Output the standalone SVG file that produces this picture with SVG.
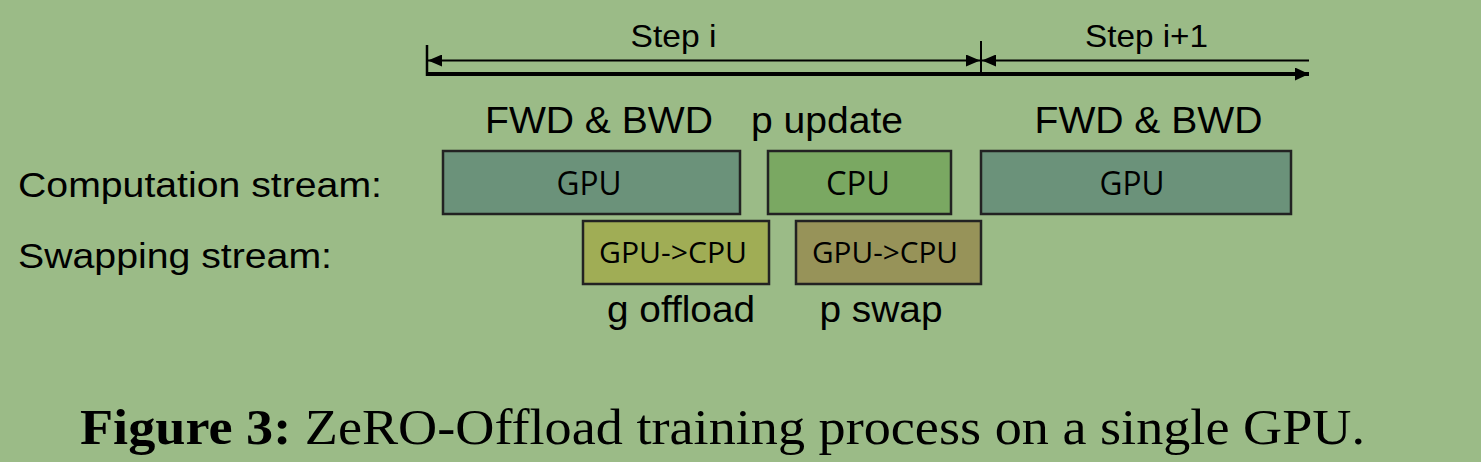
<svg xmlns="http://www.w3.org/2000/svg" width="1481" height="462" viewBox="0 0 1481 462">
<style>
.lbl{font-family:"Liberation Sans",Arial,sans-serif;fill:#000}
.box{stroke:#222;stroke-width:2.5}
.bt{font-family:"Open Sans","DejaVu Sans",sans-serif;fill:#000;text-anchor:middle}
.cap{font-family:"Liberation Serif","Times New Roman",serif;fill:#000}
</style>
<defs>
<marker id="ah" viewBox="0 0 14 12" refX="14" refY="6" markerWidth="14" markerHeight="12" markerUnits="userSpaceOnUse" orient="auto-start-reverse">
<path d="M0,0 L14,6 L0,12 Z" fill="#000"/>
</marker>
<marker id="ahb" viewBox="0 0 14 13" refX="14" refY="6.5" markerWidth="14" markerHeight="13" markerUnits="userSpaceOnUse" orient="auto">
<path d="M0,0 L14,6.5 L0,13 Z" fill="#000"/>
</marker>
</defs>
<rect width="1481" height="462" fill="#9bbb87"/>
<g id="connectors" stroke="#000" fill="none">
<line x1="427" y1="45" x2="427" y2="76" stroke-width="2.5"/>
<line x1="981" y1="41" x2="981" y2="72" stroke-width="2"/>
<line x1="428" y1="60.5" x2="980" y2="60.5" stroke-width="2" marker-start="url(#ah)" marker-end="url(#ah)"/>
<line x1="1309" y1="60.5" x2="982" y2="60.5" stroke-width="2" marker-end="url(#ah)"/>
<line x1="426" y1="74" x2="1309" y2="74" stroke-width="4" marker-end="url(#ahb)"/>
</g>
<g id="step-labels">
<text class="lbl" x="673.5" y="47" font-size="32" text-anchor="middle" textLength="86" lengthAdjust="spacingAndGlyphs">Step i</text>
<text class="lbl" x="1146.5" y="47" font-size="32" text-anchor="middle" textLength="123" lengthAdjust="spacingAndGlyphs">Step i+1</text>
</g>
<g id="phase-labels">
<text class="lbl" x="599" y="133" font-size="36" text-anchor="middle" textLength="228" lengthAdjust="spacingAndGlyphs">FWD &amp; BWD</text>
<text class="lbl" x="827" y="133" font-size="36" text-anchor="middle" textLength="152" lengthAdjust="spacingAndGlyphs">p update</text>
<text class="lbl" x="1148.5" y="133" font-size="36" text-anchor="middle" textLength="228" lengthAdjust="spacingAndGlyphs">FWD &amp; BWD</text>
</g>
<g id="stream-labels">
<text class="lbl" x="18" y="197" font-size="35" textLength="364" lengthAdjust="spacingAndGlyphs">Computation stream:</text>
<text class="lbl" x="18" y="268" font-size="35" textLength="314" lengthAdjust="spacingAndGlyphs">Swapping stream:</text>
</g>
<g id="gpu1">
<rect class="box" x="443" y="151" width="297" height="63" fill="#6b927a"/>
<text class="bt" x="589" y="195" font-size="32" textLength="65" lengthAdjust="spacingAndGlyphs">GPU</text>
</g>
<g id="cpu">
<rect class="box" x="768" y="151" width="183" height="63" fill="#7aa862"/>
<text class="bt" x="858" y="195" font-size="32" textLength="64" lengthAdjust="spacingAndGlyphs">CPU</text>
</g>
<g id="gpu2">
<rect class="box" x="981" y="151" width="310" height="63" fill="#6b927a"/>
<text class="bt" x="1132" y="195" font-size="32" textLength="65" lengthAdjust="spacingAndGlyphs">GPU</text>
</g>
<g id="g-offload">
<rect class="box" x="583" y="221" width="186" height="63" fill="#a0ad55"/>
<text class="bt" x="673" y="263" font-size="29" textLength="148" lengthAdjust="spacingAndGlyphs">GPU-&gt;CPU</text>
<text class="lbl" x="681" y="322" font-size="36" text-anchor="middle" textLength="148" lengthAdjust="spacingAndGlyphs">g offload</text>
</g>
<g id="p-swap">
<rect class="box" x="796" y="221" width="185" height="63" fill="#979359"/>
<text class="bt" x="885" y="263" font-size="29" textLength="146" lengthAdjust="spacingAndGlyphs">GPU-&gt;CPU</text>
<text class="lbl" x="881" y="322" font-size="36" text-anchor="middle" textLength="123" lengthAdjust="spacingAndGlyphs">p swap</text>
</g>
<g id="caption">
<text class="cap" x="80" y="444" font-size="51" textLength="1285" lengthAdjust="spacingAndGlyphs"><tspan font-weight="bold">Figure 3:</tspan> ZeRO-Offload training process on a single GPU.</text>
</g>
</svg>
